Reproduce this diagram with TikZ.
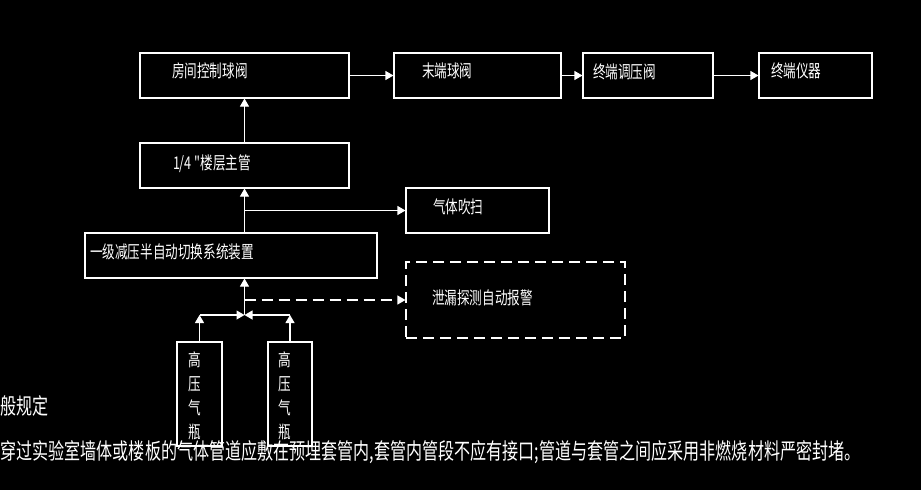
\documentclass[tikz,border=0pt]{standalone}
\usepackage{fontspec}
\newfontfamily\cadfont[FakeStretch=0.72]{Noto Sans CJK SC}
\usetikzlibrary{arrows.meta,positioning}
\definecolor{cadBg}{RGB}{0,0,0}
\definecolor{cadLine}{RGB}{255,255,255}

\begin{document}
\begin{tikzpicture}[x=1pt, y=-1pt, line width=1.1pt,
    box/.style={draw=cadLine, minimum height=45pt, inner sep=0pt},
    txt/.style={text=cadLine, inner sep=0pt, font=\cadfont\fontsize{17.5}{24}\selectfont},
    note/.style={text=cadLine, inner sep=0pt, anchor=west, font=\cadfont\fontsize{22.3}{27}\selectfont},
    flow/.style={draw=cadLine, -{Triangle[length=8pt,width=9pt]}},
    alarm/.style={flow, dash pattern=on 11pt off 6pt}]

    % background
    \fill[cadBg] (0,0) rectangle (921,490);
    \useasboundingbox (0,0) rectangle (921,490);

    % top chain
    \node[box, minimum width=209pt] (rcv) at (244.5,75.5) {};
    \node[box, minimum width=167pt] (endv) at (477.5,75.5) {};
    \node[box, minimum width=130pt] (reg) at (648,75.5) {};
    \node[box, minimum width=113pt] (inst) at (815.5,75.5) {};
    \node[txt, right=32pt of rcv.west, yshift=5pt] (rcvT) {房间控制球阀};
    \node[txt, right=28pt of endv.west, yshift=5pt] (endvT) {末端球阀};
    \node[txt, right=10pt of reg.west, yshift=4pt] (regT) {终端调压阀};
    \node[txt, right=12pt of inst.west, yshift=5pt] (instT) {终端仪器};
    \foreach \a/\b in {rcv/endv, endv/reg, reg/inst}
      \draw[flow] (\a) -- (\b);

    % riser and branches
    \node[box, minimum width=209pt] (main) at (244.5,165.5) {};
    \node[txt, right=33pt of main.west, yshift=1.5pt] (mainT) {1/4 "楼层主管};
    \node[box, minimum width=143pt] (purge) at (477.5,210.5) {};
    \node[txt, right=27pt of purge.west, yshift=3.5pt] (purgeT) {气体吹扫};
    \node[box, minimum width=292pt] (sw) at (231,255.5) {};
    \node[txt, right=5pt of sw.west, yshift=3.5pt] (swT) {一级减压半自动切换系统装置};
    \node[box, dash pattern=on 11pt off 6pt, minimum width=219pt, minimum height=76pt] (leak) at (515.5,300) {};
    \node[txt, right=26pt of leak.west, yshift=2pt] (leakT) {泄漏探测自动报警};

    \draw[flow] (main) -- (rcv);
    \draw[flow] (main.south |- sw.north) -- (main.south);
    \draw[flow] (main.south |- purge.west) -- (purge.west);

    % cylinders and valve
    \coordinate (v) at (244.5,315);
    \node[box, minimum width=45pt, minimum height=104pt] (b1) at (199.5,394) {};
    \node[box, minimum width=44pt, minimum height=104pt] (b2) at (290,394) {};
    \node[txt, align=center] (b1T) at ([xshift=-5pt, yshift=-2pt]b1.center) {高\\压\\气\\瓶};
    \node[txt, align=center] (b2T) at ([xshift=-5pt, yshift=-2pt]b2.center) {高\\压\\气\\瓶};
    \draw[flow] (b1.north) -- (b1.north |- v);
    \draw[flow] (b2.north) -- (b2.north |- v);
    \draw[flow] (b1.north |- v) -- (v);
    \draw[flow] (b2.north |- v) -- (v);
    \draw[flow] (v) -- (v |- sw.south);
    \draw[alarm] (v |- leak.west) -- (leak.west);

    % notes
    \node[note] (rule) at (0,406) {般规定};
    \node[note] (pipe) at (0,452) {穿过实验室墙体或楼板的气体管道应敷在预埋套管内,套管内管段不应有接口;管道与套管之间应采用非燃烧材料严密封堵。};
\end{tikzpicture}
\end{document}
